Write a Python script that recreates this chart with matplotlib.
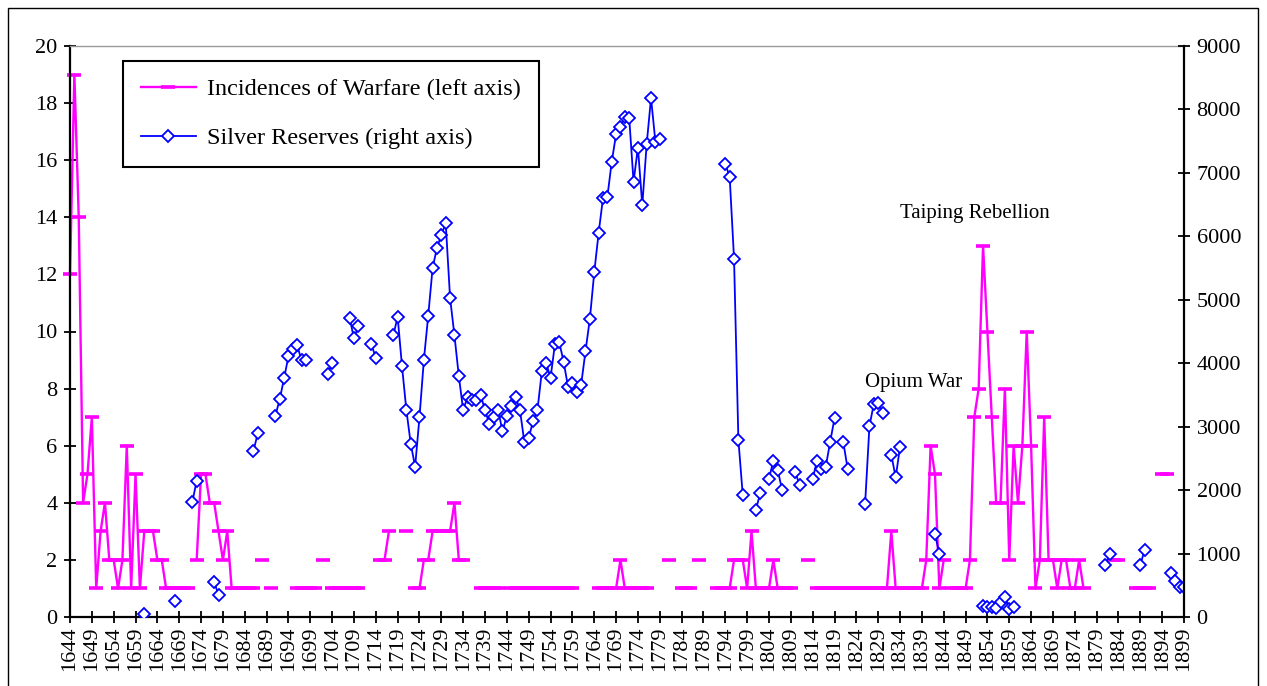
import numpy as np
import matplotlib
matplotlib.use("Agg")
import matplotlib.pyplot as plt
from matplotlib.patches import Rectangle

plt.rcParams['font.family'] = ['Liberation Serif', 'DejaVu Serif']

N = None
years = list(range(1644, 1900))

# incidences of warfare per year (left axis), one row = 10 years
warfare = [
    12, 19, 14, 4, 5, 7, 1, 3, 4, 2,          # 1644-1653
    2, 1, 2, 6, 1, 5, 1, 3, 3, 3,             # 1654-1663
    2, 2, 1, 1, 1, 1, 1, 1, N, 2,             # 1664-1673
    5, 5, 4, 4, 3, 2, 3, 1, 1, 1,             # 1674-1683
    1, 1, 1, N, 2, N, 1, N, N, N,             # 1684-1693
    N, N, 1, 1, 1, 1, 1, N, 2, N,             # 1694-1703
    1, 1, 1, 1, 1, 1, 1, N, N, N,             # 1704-1713
    N, 2, 2, 3, N, N, N, 3, N, 1,             # 1714-1723
    1, 2, 2, 3, 3, 3, 3, 3, 4, 2,             # 1724-1733
    2, N, N, N, 1, 1, 1, 1, 1, N,             # 1734-1743
    N, 1, 1, 1, 1, 1, 1, 1, 1, 1,             # 1744-1753
    1, 1, 1, 1, 1, 1, N, N, N, N,             # 1754-1763
    N, 1, 1, 1, 1, 1, 2, 1, 1, 1,             # 1764-1773
    1, 1, 1, N, N, N, N, 2, N, N,             # 1774-1783
    1, 1, 1, N, 2, N, N, N, 1, 1,             # 1784-1793
    1, 1, 2, 2, 2, 1, 3, 1, 1, 1,             # 1794-1803
    1, 2, 1, 1, 1, 1, N, N, N, 2,             # 1804-1813
    N, 1, 1, 1, 1, 1, 1, 1, 1, 1,             # 1814-1823
    1, 1, 1, 1, 1, 1, 1, 1, 3, 1,             # 1824-1833
    1, 1, 1, 1, 1, 1, 2, 6, 5, 1,             # 1834-1843
    2, N, 1, 1, 1, 1, 2, 7, 8, 13,            # 1844-1853
    10, 7, 4, 4, 8, 2, 6, 4, 6, 10,           # 1854-1863
    6, 1, 2, 7, 2, 2, 1, 2, 2, 1,             # 1864-1873
    1, 2, 1, N, N, N, N, N, N, 2,             # 1874-1883
    2, N, N, N, 1, 1, 1, 1, N, N,             # 1884-1893
    5, 5, N, N, N, N,                         # 1894-1899
]

# silver reserves per year (right axis)
silver = [
    N, N, N, N, N, N, N, N, N, N,                                  # 1644-1653
    N, N, N, N, N, N, N, 40, N, N,                                 # 1654-1663
    N, N, N, N, 260, N, N, N, 1810, 2150,                          # 1664-1673
    N, N, N, 550, 350, N, N, N, N, N,                              # 1674-1683
    N, N, 2620, 2900, N, N, N, 3170, 3430, 3760,                   # 1684-1693
    4110, 4220, 4280, 4050, 4050, N, N, N, N, 3830,                # 1694-1703
    4000, N, N, N, 4720, 4390, 4590, N, N, 4300,                   # 1704-1713
    4080, N, N, N, 4440, 4730, 3950, 3260, 2730, 2370,             # 1714-1723
    3150, 4050, 4750, 5500, 5820, 6020, 6210, 5030, 4440, 3800,    # 1724-1733
    3260, 3470, 3420, 3420, 3500, 3260, 3040, 3150, 3260, 2930,    # 1734-1743
    3170, 3320, 3470, 3260, 2760, 2820, 3090, 3260, 3870, 4000,    # 1744-1753
    3770, 4300, 4330, 4020, 3630, 3690, 3540, 3660, 4190, 4700,    # 1754-1763
    5430, 6050, 6600, 6620, 7170, 7610, 7730, 7880, 7870, 6860,    # 1764-1773
    7400, 6490, 7450, 8180, 7490, 7530, N, N, N, N,                # 1774-1783
    N, N, N, N, N, N, N, N, N, N,                                  # 1784-1793
    7140, 6940, 5650, 2790, 1920, N, N, 1690, 1950, N,             # 1794-1803
    2180, 2460, 2320, 2000, N, N, 2290, 2080, N, N,                # 1804-1813
    2180, 2460, 2340, 2370, 2760, 3130, N, 2760, 2340, N,          # 1814-1823
    N, N, 1780, 3010, 3360, 3370, 3210, N, 2560, 2200,             # 1824-1833
    2680, N, N, N, N, N, N, N, 1310, 990,                          # 1834-1843
    N, N, N, N, N, N, N, N, N, 180,                                # 1844-1853
    160, 150, 140, 240, 320, 120, 150, N, N, N,                    # 1854-1863
    N, N, N, N, N, N, N, N, N, N,                                  # 1864-1873
    N, N, N, N, N, N, N, 820, 1000, N,                             # 1874-1883
    N, N, N, N, N, 820, 1060, N, N, N,                             # 1884-1893
    N, N, 690, 560, 480, 470,                                      # 1894-1899
]

war = np.array([np.nan if v is None else v for v in warfare], dtype=float)
ag = np.array([np.nan if v is None else v for v in silver], dtype=float)

fig = plt.figure(figsize=(12.67, 6.86), dpi=100)
ax = fig.add_axes([70 / 1267, 1 - 617 / 686, 1114 / 1267, 571 / 686])
ax2 = ax.twinx()

l1, = ax.plot(years, war, color='#FF00FF', lw=1.7, marker='_', ms=9.5, mew=2.6,
              clip_on=False, label='Incidences of Warfare (left axis)')
l2, = ax2.plot(years, ag, color='#0000FF', lw=1.3, marker='D', ms=5.8, mew=1.3,
               mfc='white', mec='#0000FF', label='Silver Reserves (right axis)')

ax.set_xlim(1644, 1899)
ax.set_ylim(0, 20)
ax2.set_ylim(0, 9000)
ax.set_xticks(range(1644, 1900, 5))
ax.set_xticklabels([str(y) for y in range(1644, 1900, 5)], rotation=90, fontsize=16)
ax.set_yticks(range(0, 21, 2))
ax2.set_yticks(range(0, 9001, 1000))
ax.tick_params(axis='y', labelsize=16, direction='inout', length=8, width=1.3, pad=5)
ax.tick_params(axis='x', direction='inout', length=8, width=1.3, pad=3)
ax2.tick_params(axis='y', labelsize=16, direction='inout', length=8, width=1.3, pad=5)

for s in ['left', 'bottom']:
    ax.spines[s].set_linewidth(1.6)
ax.spines['top'].set_color('#999999')
ax.spines['top'].set_linewidth(1.0)
ax.spines['right'].set_visible(False)
for s in ['left', 'bottom', 'top']:
    ax2.spines[s].set_visible(False)
ax2.spines['right'].set_linewidth(1.6)

ax2.text(1826, 8.2 * 450, 'Opium War', fontsize=15, ha='left', va='center')
ax2.text(1834, 14.15 * 450, 'Taiping Rebellion', fontsize=15, ha='left', va='center')

leg = ax2.legend(handles=[l1, l2], loc='upper left', bbox_to_anchor=(0.0476, 0.974),
                 borderaxespad=0, fontsize=17.5, fancybox=False, framealpha=1,
                 edgecolor='black', handlelength=2.3, handletextpad=0.45,
                 labelspacing=1.1, borderpad=0.72, numpoints=1)
leg.get_frame().set_linewidth(1.5)

fig.patches.append(Rectangle((8 / 1267, -0.05), 1250 / 1267, 1 - 8 / 686 + 0.05,
                             transform=fig.transFigure, fill=False,
                             ec='black', lw=1.0))

fig.savefig('out.png', dpi=100)
